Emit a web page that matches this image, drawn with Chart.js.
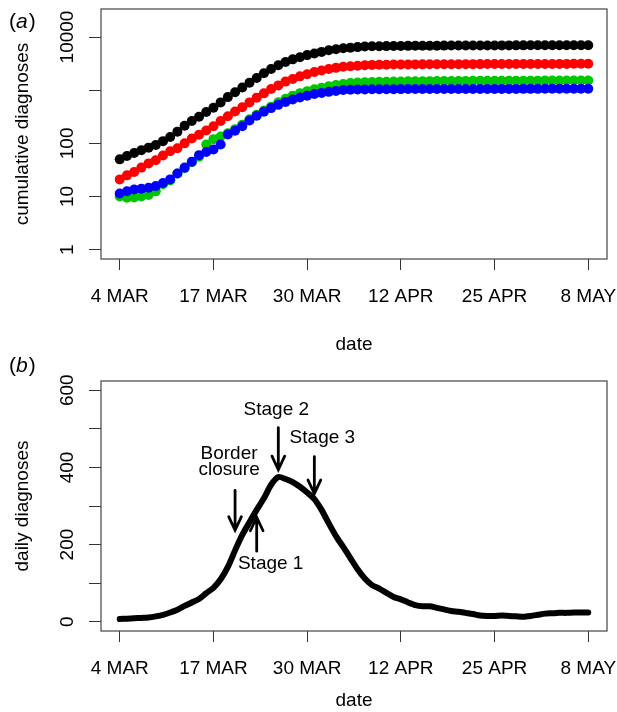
<!DOCTYPE html>
<html>
<head>
<meta charset="utf-8">
<script src="https://cdn.jsdelivr.net/npm/chart.js@4.4.1/dist/chart.umd.min.js"></script>
<style>
  html, body { margin: 0; padding: 0; background: #fff; }
  #wrap { position: relative; width: 617px; height: 712px; }
  canvas { position: absolute; left: 0; }
  #chartA { top: 0; }
  #chartB { top: 356px; }
</style>
</head>
<body>
<div id="wrap">
  <canvas id="chartA" width="617" height="356"></canvas>
  <canvas id="chartB" width="617" height="356"></canvas>
</div>
<script>
// days since 4 MAR
const tickDays = [0, 13, 26, 39, 52, 65];
const dateLabels = ['4 MAR', '17 MAR', '30 MAR', '12 APR', '25 APR', '8 MAY'];

const cumTicks = [1, 10, 100, 1000, 10000];
const cumTickLabels = ['1', '10', '100', '', '10000'];
const dailyTicks = [0, 100, 200, 300, 400, 500, 600];
const dailyTickLabels = ['0', '', '200', '', '400', '', '600'];

// panel (a) cumulative diagnoses, one value per day
const cumBlack = [50, 58, 66, 74, 83, 93, 110, 132, 166, 214, 263, 316, 389, 468, 589, 741, 912, 1120,
  1380, 1700, 2090, 2510, 2950, 3390, 3800, 4170, 4570, 4900, 5250, 5620, 5890, 6170, 6310, 6460, 6610, 6680,
  6720, 6750, 6780, 6800, 6820, 6840, 6860, 6870, 6880, 6890, 6900, 6910, 6920, 6930, 6940, 6945, 6950, 6955,
  6960, 6965, 6970, 6975, 6980, 6985, 6990, 6995, 7000, 7005, 7010, 7015];
const cumRed = [21, 25, 29, 35, 42, 48, 59, 71, 81, 100, 123, 145, 174, 209, 263, 324, 398, 479,
  589, 724, 871, 1050, 1230, 1450, 1620, 1820, 2000, 2190, 2340, 2510, 2630, 2750, 2820, 2880, 2950, 2990,
  3000, 3015, 3030, 3040, 3050, 3055, 3060, 3065, 3070, 3075, 3080, 3085, 3090, 3090, 3095, 3100, 3100, 3105,
  3105, 3110, 3110, 3115, 3115, 3120, 3120, 3125, 3125, 3130, 3130, 3135];
const cumGreen = [10, 9.5, 9.6, 10, 10.7, 12.5, 17, 20, 27, 34, 44, 56, 95, 120, 135, 155, 185, 225,
  285, 345, 415, 490, 590, 690, 790, 880, 960, 1040, 1110, 1180, 1250, 1310, 1360, 1390, 1410, 1425,
  1435, 1445, 1455, 1460, 1465, 1470, 1475, 1480, 1483, 1486, 1489, 1492, 1495, 1497, 1499, 1501, 1503, 1505,
  1507, 1509, 1510, 1511, 1512, 1513, 1514, 1515, 1516, 1517, 1518, 1520];
const cumBlue = [11.4, 12.6, 13.6, 14, 14.6, 15.7, 18, 21, 27, 35, 45, 60, 69, 77, 95, 147, 172, 210,
  270, 330, 395, 460, 530, 600, 670, 730, 790, 845, 890, 930, 965, 1005, 1020, 1028, 1035, 1040,
  1042, 1044, 1046, 1048, 1049, 1050, 1051, 1052, 1053, 1054, 1054, 1055, 1055, 1056, 1056, 1057, 1057, 1058,
  1058, 1058, 1059, 1059, 1059, 1060, 1060, 1060, 1060, 1061, 1061, 1062];

// panel (b) daily diagnoses
const daily = [7, 8, 9, 10, 11, 14, 18, 24, 31, 41, 50, 59, 74, 88, 110, 142, 185, 225,
  258, 290, 320, 355, 375, 370, 362, 350, 335, 318, 290, 255, 222, 194, 165, 136, 112, 95,
  86, 75, 64, 58, 50, 43, 40, 40, 36, 32, 28, 26, 23, 20, 16, 15, 15, 16, 15, 14,
  13, 15, 18, 21, 22, 23, 23, 24, 24, 24];

// events marked with arrows in panel (b)
const eventLabels = [['Border', 'closure'], ['Stage 1'], ['Stage 2'], ['Stage 3']];
const eventDays = [16, 19, 22, 27];
const eventTips = [237, 271, 394, 332];

const FAMILY = '"Liberation Sans", Arial, Helvetica, sans-serif';
Chart.defaults.font.family = FAMILY;
Chart.defaults.font.size = 19;
Chart.defaults.color = '#000';

const toPoints = arr => arr.map((v, i) => ({ x: i, y: v }));

function xAxis(height) {
  return {
    type: 'linear', min: -2.6, max: 67.6,
    afterBuildTicks: s => { s.ticks = tickDays.map(v => ({ value: v })); },
    afterFit: s => { s.height = height; s.paddingLeft = 0; s.paddingRight = 0; },
    ticks: { autoSkip: false, maxRotation: 0, minRotation: 0, padding: 15,
      callback: v => dateLabels[tickDays.indexOf(v)] },
    grid: { drawOnChartArea: false, tickLength: 11, color: '#333' },
    border: { display: false },
    title: { display: true, text: 'date', padding: { top: 0, bottom: 0 } }
  };
}

function yAxis(extra) {
  return Object.assign({
    afterFit: s => { s.width = 101; s.paddingTop = 0; s.paddingBottom = 0; },
    ticks: { color: 'rgba(0,0,0,0)', autoSkip: false },
    grid: { drawOnChartArea: false, tickLength: 12, color: '#333' },
    border: { display: false }
  }, extra);
}

// R-like box, vertical tick labels and panel letter
const framePlugin = {
  id: 'frame',
  afterDraw(chart, args, opts) {
    const { ctx, chartArea: a } = chart;
    const ys = chart.scales.y;
    ctx.save();
    ctx.strokeStyle = '#444';
    ctx.lineWidth = 1.2;
    ctx.strokeRect(a.left, a.top, a.right - a.left, a.bottom - a.top);

    ctx.fillStyle = '#000';
    ctx.font = '19px ' + FAMILY;
    ctx.textAlign = 'center';
    ctx.textBaseline = 'alphabetic';
    opts.values.forEach((v, i) => {
      if (!opts.labels[i]) return;
      ctx.save();
      ctx.translate(73, ys.getPixelForValue(v));
      ctx.rotate(-Math.PI / 2);
      ctx.fillText(opts.labels[i], 0, 0);
      ctx.restore();
    });

    // "(a)" with italic letter
    ctx.textAlign = 'left';
    ctx.textBaseline = 'middle';
    let x = 9;
    ctx.font = '21px ' + FAMILY;
    ctx.fillText('(', x, opts.letterY);
    x += ctx.measureText('(').width;
    ctx.font = 'italic 21px ' + FAMILY;
    ctx.fillText(opts.letter, x, opts.letterY);
    x += ctx.measureText(opts.letter).width + 1;
    ctx.font = '21px ' + FAMILY;
    ctx.fillText(')', x, opts.letterY);
    ctx.restore();
  }
};

// arrows + labels in panel (b)
const arrowLayout = [
  { dir: 1, len: 40, dx: -6, dy: [-31, -15] },
  { dir: -1, len: 34, dx: 14, dy: [18] },
  { dir: 1, len: 42, dx: -2, dy: [-13] },
  { dir: 1, len: 37, dx: 8, dy: [-14] }
];
const arrowPlugin = {
  id: 'arrows',
  afterDraw(chart) {
    const { ctx } = chart;
    const xs = chart.scales.x, ys = chart.scales.y;
    ctx.save();
    ctx.strokeStyle = '#000';
    ctx.fillStyle = '#000';
    ctx.lineWidth = 2.8;
    ctx.lineCap = 'round';
    ctx.font = '19px ' + FAMILY;
    ctx.textAlign = 'center';
    ctx.textBaseline = 'alphabetic';
    eventDays.forEach((d, i) => {
      const L = arrowLayout[i];
      const x = xs.getPixelForValue(d);
      const tip = ys.getPixelForValue(eventTips[i]);
      const tail = tip - L.dir * L.len;
      ctx.beginPath();
      ctx.moveTo(x, tail);
      ctx.lineTo(x, tip);
      const hl = 15, ang = 25 * Math.PI / 180;
      ctx.moveTo(x - hl * Math.sin(ang), tip - L.dir * hl * Math.cos(ang));
      ctx.lineTo(x, tip);
      ctx.lineTo(x + hl * Math.sin(ang), tip - L.dir * hl * Math.cos(ang));
      ctx.stroke();
      eventLabels[i].forEach((line, j) => {
        ctx.fillText(line, x + L.dx, tail + L.dy[j]);
      });
    });
    ctx.restore();
  }
};

new Chart(document.getElementById('chartA'), {
  type: 'scatter',
  data: {
    datasets: [
      { data: toPoints(cumBlue), backgroundColor: '#0000ff', order: 0 },
      { data: toPoints(cumGreen), backgroundColor: '#00c800', order: 1 },
      { data: toPoints(cumRed), backgroundColor: '#ff0000', order: 2 },
      { data: toPoints(cumBlack), backgroundColor: '#000000', order: 3 }
    ]
  },
  options: {
    responsive: false, animation: false, devicePixelRatio: 1,
    layout: { padding: { top: 9, right: 10, bottom: 0, left: 0 } },
    elements: { point: { radius: 5, borderWidth: 0, hoverRadius: 5 } },
    plugins: {
      legend: { display: false }, tooltip: { enabled: false },
      frame: { values: cumTicks, labels: cumTickLabels, letter: 'a', letterY: 22 }
    },
    scales: {
      x: xAxis(97),
      y: yAxis({
        type: 'logarithmic', min: 0.668, max: 33650,
        afterBuildTicks: s => { s.ticks = cumTicks.map(v => ({ value: v })); },
        title: { display: true, text: 'cumulative diagnoses', padding: { top: 11, bottom: 0 } }
      })
    }
  },
  plugins: [framePlugin]
});

new Chart(document.getElementById('chartB'), {
  type: 'line',
  data: {
    datasets: [{
      data: toPoints(daily), borderColor: '#000', borderWidth: 6, pointRadius: 0,
      tension: 0.25, borderCapStyle: 'round', borderJoinStyle: 'round', fill: false
    }]
  },
  options: {
    responsive: false, animation: false, devicePixelRatio: 1,
    layout: { padding: { top: 25, right: 10, bottom: 0, left: 0 } },
    plugins: {
      legend: { display: false }, tooltip: { enabled: false },
      frame: { values: dailyTicks, labels: dailyTickLabels, letter: 'b', letterY: 10 }
    },
    scales: {
      x: xAxis(81),
      y: yAxis({
        type: 'linear', min: -24, max: 624,
        afterBuildTicks: s => { s.ticks = dailyTicks.map(v => ({ value: v })); },
        title: { display: true, text: 'daily diagnoses', padding: { top: 11, bottom: 0 } }
      })
    }
  },
  plugins: [framePlugin, arrowPlugin]
});
</script>
</body>
</html>
